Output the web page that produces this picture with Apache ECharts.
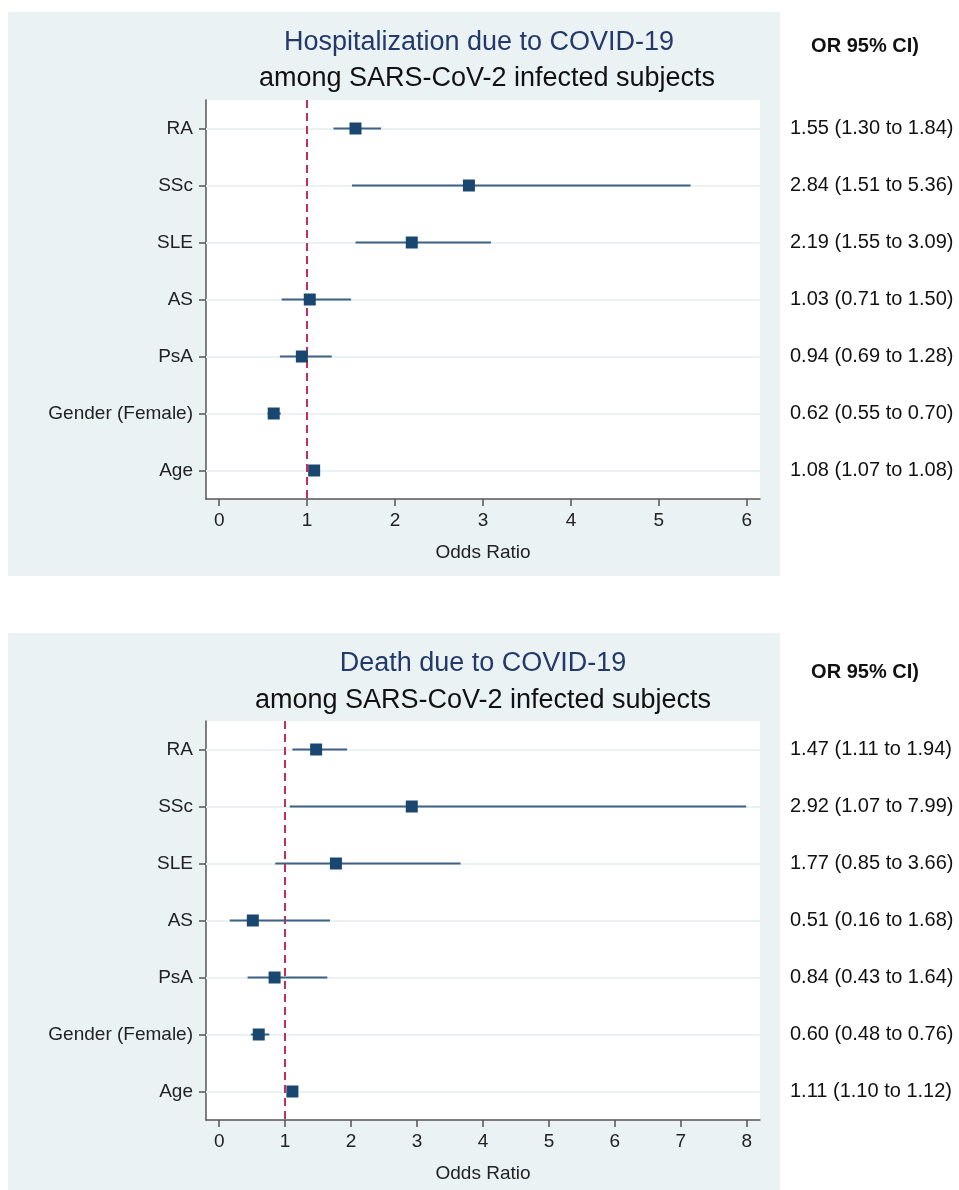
<!DOCTYPE html>
<html>
<head>
<meta charset="utf-8">
<script src="https://cdn.jsdelivr.net/npm/echarts@6.0.0/dist/echarts.min.js"></script>
<style>
  html, body { margin: 0; padding: 0; background: #fff; }
  #chart { width: 959px; height: 1190px; }
</style>
</head>
<body>
<div id="chart"></div>
<script>
// rows, top to bottom
const rowNames = ['RA', 'SSc', 'SLE', 'AS', 'PsA', 'Gender (Female)', 'Age'];

// hospitalization
const hospOR = [1.55, 2.84, 2.19, 1.03, 0.94, 0.62, 1.08];
const hospLow = [1.30, 1.51, 1.55, 0.71, 0.69, 0.55, 1.07];
const hospHigh = [1.84, 5.36, 3.09, 1.50, 1.28, 0.70, 1.08];
const hospTicks = [0, 1, 2, 3, 4, 5, 6];

// death
const deathOR = [1.47, 2.92, 1.77, 0.51, 0.84, 0.60, 1.11];
const deathLow = [1.11, 1.07, 0.85, 0.16, 0.43, 0.48, 1.10];
const deathHigh = [1.94, 7.99, 3.66, 1.68, 1.64, 0.76, 1.12];
const deathTicks = [0, 1, 2, 3, 4, 5, 6, 7, 8];

const refValue = 1;

const FONT = '"Liberation Sans", Arial, Helvetica, sans-serif';
const NAVY = '#1a476f';
const PANEL_BG = '#eaf2f3';

function ciText(or, lo, hi) {
  return or.map((v, i) => `${v.toFixed(2)} (${lo[i].toFixed(2)} to ${hi[i].toFixed(2)})`);
}

function xAxisFor(gridIndex, ticks, pad) {
  return {
    type: 'value',
    gridIndex,
    min: ticks[0] - pad,
    max: ticks[ticks.length - 1] + pad,
    name: 'Odds Ratio',
    nameLocation: 'middle',
    nameGap: 44,
    nameTextStyle: { fontFamily: FONT, fontSize: 19, color: '#222' },
    axisLine: { show: true, onZero: false, lineStyle: { color: '#555', width: 1.5 } },
    axisTick: { show: true, length: 7, customValues: ticks, lineStyle: { color: '#555', width: 1.5 } },
    axisLabel: { customValues: ticks, margin: 12, fontFamily: FONT, fontSize: 19, color: '#222' },
    splitLine: { show: false },
  };
}

function yAxesFor(gridIndex, or, lo, hi) {
  return [
    {
      type: 'category',
      gridIndex,
      data: rowNames,
      inverse: true,
      axisLine: { show: true, onZero: false, lineStyle: { color: '#555', width: 1.5 } },
      axisTick: { show: true, length: 7, alignWithLabel: true, lineStyle: { color: '#555', width: 1.5 } },
      axisLabel: { margin: 13, fontFamily: FONT, fontSize: 19, color: '#222' },
      splitLine: { show: false },
    },
    {
      type: 'category',
      gridIndex,
      position: 'right',
      data: ciText(or, lo, hi),
      inverse: true,
      axisLine: { show: false, onZero: false },
      axisTick: { show: false },
      axisLabel: { margin: 30, padding: [0, 0, 12, 0], fontFamily: FONT, fontSize: 20, color: '#111' },
      splitLine: { show: false },
    },
  ];
}

function seriesFor(idx, or, lo, hi) {
  return [
    {
      // horizontal grid lines at each row
      type: 'line',
      xAxisIndex: idx,
      yAxisIndex: idx * 2,
      data: [],
      z: 1,
      silent: true,
      markLine: {
        silent: true,
        z: 1,
        symbol: ['none', 'none'],
        label: { show: false },
        lineStyle: { color: PANEL_BG, width: 2, type: 'solid' },
        data: rowNames.map((n) => ({ yAxis: n })),
      },
    },
    {
      type: 'custom',
      xAxisIndex: idx,
      yAxisIndex: idx * 2,
      z: 3,
      data: lo.map((v, i) => [v, hi[i], i]),
      encode: { x: [0, 1], y: 2 },
      renderItem(params, api) {
        const a = api.coord([api.value(0), api.value(2)]);
        const b = api.coord([api.value(1), api.value(2)]);
        return {
          type: 'line',
          shape: { x1: a[0], y1: a[1], x2: b[0], y2: a[1] },
          style: { stroke: '#3e6184', lineWidth: 2 },
        };
      },
    },
    {
      type: 'scatter',
      xAxisIndex: idx,
      yAxisIndex: idx * 2,
      z: 4,
      symbol: 'rect',
      symbolSize: 12,
      itemStyle: { color: NAVY, opacity: 1 },
      data: or.map((v, i) => [v, i]),
      markLine: {
        silent: true,
        z: 2,
        symbol: ['none', 'none'],
        label: { show: false },
        lineStyle: { color: '#c42e5a', width: 2, type: [8, 5] },
        data: [{ xAxis: refValue }],
      },
    },
  ];
}

const chart = echarts.init(document.getElementById('chart'));

const option = {
  backgroundColor: '#fff',
  animation: false,
  graphic: [
    { type: 'rect', z: -10, shape: { x: 8, y: 12, width: 772, height: 564 }, style: { fill: PANEL_BG } },
    { type: 'rect', z: -10, shape: { x: 8, y: 633, width: 772, height: 557 }, style: { fill: PANEL_BG } },
    { type: 'text', x: 479, y: 43, style: { text: 'Hospitalization due to COVID-19', font: `27px ${FONT}`, fill: '#22396a', textAlign: 'center', textVerticalAlign: 'middle' } },
    { type: 'text', x: 487, y: 79, style: { text: 'among SARS-CoV-2 infected subjects', font: `27px ${FONT}`, fill: '#111', textAlign: 'center', textVerticalAlign: 'middle' } },
    { type: 'text', x: 483, y: 664, style: { text: 'Death due to COVID-19', font: `27px ${FONT}`, fill: '#22396a', textAlign: 'center', textVerticalAlign: 'middle' } },
    { type: 'text', x: 483, y: 701, style: { text: 'among SARS-CoV-2 infected subjects', font: `27px ${FONT}`, fill: '#111', textAlign: 'center', textVerticalAlign: 'middle' } },
    { type: 'text', x: 865, y: 46, style: { text: 'OR 95% CI)', font: `bold 20px ${FONT}`, fill: '#111', textAlign: 'center', textVerticalAlign: 'middle' } },
    { type: 'text', x: 865, y: 672, style: { text: 'OR 95% CI)', font: `bold 20px ${FONT}`, fill: '#111', textAlign: 'center', textVerticalAlign: 'middle' } },
  ],
  grid: [
    { left: 206, top: 100, width: 554, height: 399, show: true, backgroundColor: '#fff', borderWidth: 0 },
    { left: 206, top: 721, width: 554, height: 399, show: true, backgroundColor: '#fff', borderWidth: 0 },
  ],
  xAxis: [
    xAxisFor(0, hospTicks, 0.15),
    xAxisFor(1, deathTicks, 0.2),
  ],
  yAxis: [
    ...yAxesFor(0, hospOR, hospLow, hospHigh),
    ...yAxesFor(1, deathOR, deathLow, deathHigh),
  ],
  series: [
    ...seriesFor(0, hospOR, hospLow, hospHigh),
    ...seriesFor(1, deathOR, deathLow, deathHigh),
  ],
};

chart.setOption(option);
</script>
</body>
</html>
